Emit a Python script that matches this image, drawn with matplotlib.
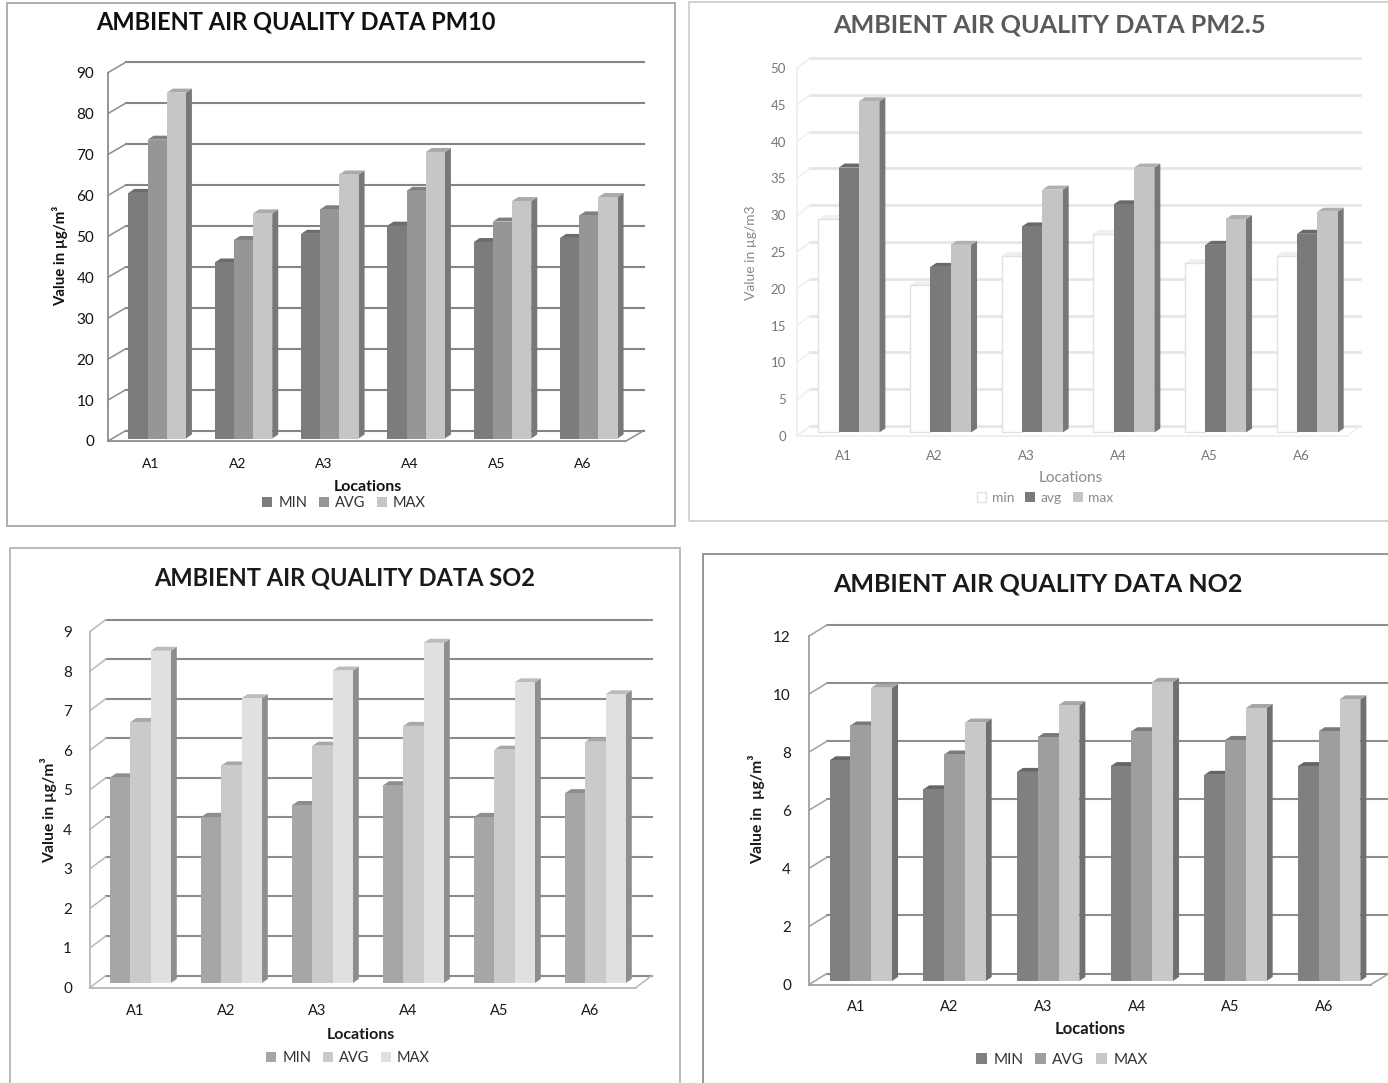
import matplotlib
matplotlib.use("Agg")
import matplotlib.pyplot as plt
from matplotlib.patches import Rectangle

W, H = 1388, 1083
plt.rcParams["font.family"] = ["Lato", "DejaVu Sans"]

locations = ["A1", "A2", "A3", "A4", "A5", "A6"]

pm10_min = [60, 43, 50, 52, 48, 49]
pm10_avg = [73, 48.5, 56, 60.5, 53, 54.5]
pm10_max = [84.5, 55, 64.5, 70, 58, 59]
pm10_ticks = list(range(0, 91, 10))

pm25_min = [29, 20, 24, 27, 23, 24]
pm25_avg = [36, 22.5, 28, 31, 25.5, 27]
pm25_max = [45, 25.5, 33, 36, 29, 30]
pm25_ticks = list(range(0, 51, 5))

so2_min = [5.2, 4.2, 4.5, 5.0, 4.2, 4.8]
so2_avg = [6.6, 5.5, 6.0, 6.5, 5.9, 6.1]
so2_max = [8.4, 7.2, 7.9, 8.6, 7.6, 7.3]
so2_ticks = list(range(0, 10))

no2_min = [7.6, 6.6, 7.2, 7.4, 7.1, 7.4]
no2_avg = [8.8, 7.8, 8.4, 8.6, 8.3, 8.6]
no2_max = [10.1, 8.9, 9.5, 10.3, 9.4, 9.7]
no2_ticks = list(range(0, 13, 2))

panels = [
    dict(title="AMBIENT AIR QUALITY DATA PM10", series=(pm10_min, pm10_avg, pm10_max), ticks=pm10_ticks,
         names=("MIN", "AVG", "MAX"), ylabel="Value in µg/m³",
         frame=(7, 3, 675, 526), frame_c="#a8a8a8",
         left=108, right=626, y0=441, ytop=72.6, wall=(18, 10.5), bar_off=(6, 2.5),
         front=("#7c7c7c", "#969696", "#c6c6c6"), side=("#666666", "#707070", "#787878"),
         top=("#6c6c6c", "#808080", "#aaaaaa"), edge=None,
         grid_c="#858585", grid_w=1.5, tick_c="#8c8c8c", text_c="#111111", label_bold=True,
         tick_fs=11, xtick_fs=10, tick_pad=10, xtick_pad=12,
         title_xy=(296, 22), title_fs=17, ylabel_xy=(60, 256), ylabel_fs=10.8,
         xlabel_xy=(368, 487), xlabel_fs=11.5, leg_xy=(344, 503), leg_fs=10.5),
    dict(title="AMBIENT AIR QUALITY DATA PM2.5", series=(pm25_min, pm25_avg, pm25_max), ticks=pm25_ticks,
         names=("min", "avg", "max"), ylabel="Value in µg/m3",
         frame=(689, 2, 1400, 521), frame_c="#cfcfcf",
         left=797, right=1347, y0=436, ytop=68, wall=(13, 10), bar_off=(6, 3.5),
         front=("#ffffff", "#7a7a7a", "#c4c4c4"), side=("#f4f4f4", "#606060", "#777777"),
         top=("#f0f0f0", "#6a6a6a", "#b0b0b0"), edge="#e2e2e2",
         grid_c="#e6e6e6", grid_w=2, tick_c="#efefef", text_c="#777777", label_bold=False,
         tick_fs=9.5, xtick_fs=9.5, tick_pad=8, xtick_pad=10,
         title_xy=(1049, 25), title_fs=18.2, ylabel_xy=(751, 253), ylabel_fs=10,
         xlabel_xy=(1071, 478), xlabel_fs=11, leg_xy=(1045, 498), leg_fs=10),
    dict(title="AMBIENT AIR QUALITY DATA SO2", series=(so2_min, so2_avg, so2_max), ticks=so2_ticks,
         names=("MIN", "AVG", "MAX"), ylabel="Value in µg/m³",
         frame=(10, 548, 680, 1100), frame_c="#b4b4b4",
         left=90, right=636, y0=987.5, ytop=631.5, wall=(16, 12), bar_off=(5, 4.5),
         front=("#a6a6a6", "#cacaca", "#e0e0e0"), side=("#8e8e8e", "#8e8e8e", "#8e8e8e"),
         top=("#8e8e8e", "#a8a8a8", "#bcbcbc"), edge=None,
         grid_c="#8a8a8a", grid_w=1.5, tick_c="#b8b8b8", text_c="#1a1a1a", label_bold=True,
         tick_fs=11, xtick_fs=10.5, tick_pad=13, xtick_pad=12,
         title_xy=(345, 578), title_fs=17, ylabel_xy=(49, 810), ylabel_fs=11.3,
         xlabel_xy=(361, 1035), xlabel_fs=11.5, leg_xy=(348, 1058), leg_fs=10.5),
    dict(title="AMBIENT AIR QUALITY DATA NO2", series=(no2_min, no2_avg, no2_max), ticks=no2_ticks,
         names=("MIN", "AVG", "MAX"), ylabel="Value in  µg/m³",
         frame=(703, 554, 1400, 1100), frame_c="#8c8c8c",
         left=809, right=1371, y0=984.5, ytop=636, wall=(18, 11), bar_off=(5, 3.5),
         front=("#808080", "#9e9e9e", "#c8c8c8"), side=("#707070", "#707070", "#707070"),
         top=("#666666", "#7a7a7a", "#a6a6a6"), edge=None,
         grid_c="#8c8c8c", grid_w=1.5, tick_c="#a0a0a0", text_c="#1a1a1a", label_bold=True,
         tick_fs=11, xtick_fs=10.5, tick_pad=13, xtick_pad=11,
         title_xy=(1038, 584), title_fs=18, ylabel_xy=(757, 809), ylabel_fs=11.3,
         xlabel_xy=(1090, 1029), xlabel_fs=12, leg_xy=(1062, 1060), leg_fs=11),
]

BAR_W = 0.222
DEPTH_PX = (6, 4)

fig = plt.figure(figsize=(W / 100, H / 100), dpi=100, facecolor="white")


def fxy(xy):
    return xy[0] / W, 1 - xy[1] / H


def draw_panel(p):
    x0, y0, x1, y1 = p["frame"]
    fig.add_artist(Rectangle((x0 / W, 1 - y1 / H), (x1 - x0) / W, (y1 - y0) / H, transform=fig.transFigure,
                             fill=False, edgecolor=p["frame_c"], linewidth=1.3))

    ticks = p["ticks"]
    ymax = ticks[-1]
    ax = fig.add_axes([p["left"] / W, 1 - p["y0"] / H, (p["right"] - p["left"]) / W, (p["y0"] - p["ytop"]) / H])
    ax.patch.set_alpha(0)
    ax.set_xlim(-0.5, 5.5)
    ax.set_ylim(0, ymax)

    # pixels to data units, the 3d look is all offsets
    ux = (p["right"] - p["left"]) / 6
    uy = (p["y0"] - p["ytop"]) / ymax
    wx, wy = p["wall"][0] / ux, p["wall"][1] / uy
    ox, oy = p["bar_off"][0] / ux, p["bar_off"][1] / uy
    dx, dy = DEPTH_PX[0] / ux, DEPTH_PX[1] / uy

    for t in ticks:
        ax.plot([-0.5 + wx, 5.5 + wx], [t + wy, t + wy], color=p["grid_c"], lw=p["grid_w"], clip_on=False, zorder=1)
        ax.plot([-0.5, -0.5 + wx], [t, t + wy], color=p["tick_c"], lw=1.1, clip_on=False, zorder=1)
    ax.plot([5.5, 5.5 + wx], [0, wy], color=p["tick_c"], lw=1.1, clip_on=False, zorder=1)

    handles = []
    z = 3
    for i, vals in enumerate(p["series"]):
        handle = None
        for k, v in enumerate(vals):
            xl = k + (i - 1.5) * BAR_W + ox
            xr = xl + BAR_W
            ax.fill([xr, xr + dx, xr + dx, xr], [oy, oy + dy, oy + v + dy, oy + v],
                    color=p["side"][i], lw=0, clip_on=False, zorder=z)
            ax.fill([xl, xl + dx, xr + dx, xr], [oy + v, oy + v + dy, oy + v + dy, oy + v],
                    color=p["top"][i], lw=0, clip_on=False, zorder=z)
            b = ax.bar(xl + BAR_W / 2, v, BAR_W, bottom=oy, color=p["front"][i], clip_on=False, zorder=z + 1,
                       edgecolor=p["edge"] if p["edge"] and i == 0 else "none", linewidth=1)
            if handle is None:
                handle = b
        z += 2
        handles.append(handle)

    ax.spines["top"].set_visible(False)
    ax.spines["right"].set_visible(False)
    for s in ("left", "bottom"):
        ax.spines[s].set_color(p["tick_c"])
        ax.spines[s].set_linewidth(1.3)

    ax.set_yticks(ticks)
    ax.set_xticks(range(6))
    ax.set_xticklabels(locations)
    ax.tick_params(axis="y", length=0, pad=p["tick_pad"], labelsize=p["tick_fs"], labelcolor=p["text_c"])
    ax.tick_params(axis="x", length=0, pad=p["xtick_pad"], labelsize=p["xtick_fs"], labelcolor=p["text_c"])

    fig.text(*fxy(p["title_xy"]), p["title"], ha="center", va="center", fontsize=p["title_fs"],
             fontweight="bold", color=p["text_c"] if p["label_bold"] else "#5a5a5a")
    weight = "bold" if p["label_bold"] else "normal"
    lab_c = p["text_c"] if p["label_bold"] else "#8a8a8a"
    fig.text(*fxy(p["ylabel_xy"]), p["ylabel"], rotation=90, ha="center", va="center", fontsize=p["ylabel_fs"],
             fontweight=weight, color=lab_c)
    fig.text(*fxy(p["xlabel_xy"]), "Locations", ha="center", va="center", fontsize=p["xlabel_fs"],
             fontweight=weight, color=lab_c)

    ax.legend(handles, p["names"], loc="center", bbox_to_anchor=fxy(p["leg_xy"]), bbox_transform=fig.transFigure,
              ncol=3, frameon=False, fontsize=p["leg_fs"], handlelength=0.7, handleheight=0.7,
              handletextpad=0.4, columnspacing=0.8, labelcolor=lab_c if not p["label_bold"] else "#333333")


for p in panels:
    draw_panel(p)

fig.savefig("out.png", dpi=100)
